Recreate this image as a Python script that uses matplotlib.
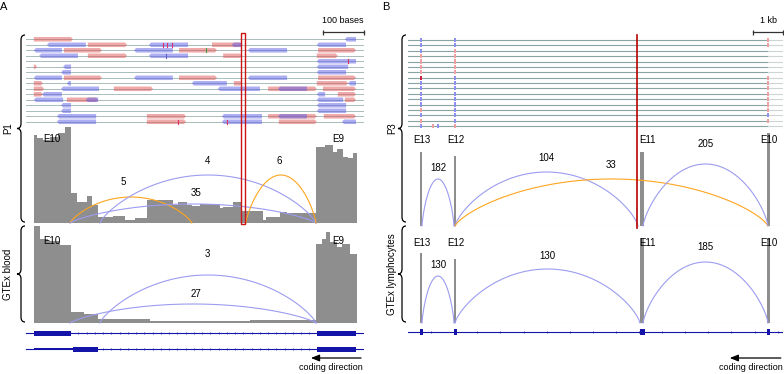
import numpy as np
import matplotlib

matplotlib.use("Agg")
from matplotlib import pyplot as plt
from matplotlib.patches import Rectangle, Polygon, PathPatch
from matplotlib.path import Path

plt.rcParams["font.family"] = ["Liberation Sans", "DejaVu Sans"]

FIG_W, FIG_H = 784, 374

# ---------------- panel A, positions in bases ----------------
a_p1_edges = [2, 9, 25, 41, 61, 78, 92, 106, 132, 142, 158, 195, 223, 247, 276,
              340, 352, 373, 385, 405, 453, 461, 486, 506, 518, 538, 558, 566,
              599, 615, 686, 708, 728, 736, 752, 764, 776, 785]
a_p1_cov = [88, 85, 83, 86, 90, 96, 30, 21, 27, 18, 6, 7, 3, 5, 23, 18, 21, 18,
            17, 19, 15, 16, 21, 12, 12, 12, 3, 6, 11, 10, 76, 78, 71, 74, 66, 65, 70]
a_blood_edges = [2, 17, 36, 65, 91, 123, 158, 284, 526, 686, 700, 710, 720, 737,
                 749, 768, 785]
a_blood_cov = [97, 84, 82, 78, 11, 9, 4, 2.5, 3, 79, 84, 91, 81, 76, 79, 69]

a_p1_start = [90, 162, 90, 516]
a_p1_end = [385, 686, 686, 686]
a_p1_count = ["5", "4", "35", "6"]
a_p1_arc = [26, 48, 19, 48]
a_p1_label_x = [218, 422, 395, 596]
a_p1_label_y = [41, 62, 30, 62]
a_p1_novel = [True, False, False, True]

a_blood_start = [162, 90]
a_blood_end = [686, 686]
a_blood_count = ["3", "27"]
a_blood_arc = [48, 19]
a_blood_label_x = [422, 395]
a_blood_label_y = [69, 29]

a_exon_names = ["E10", "E9"]
a_exon_x = [46, 739]

# reads per row: (start, end, strand)
a_reads = [
    [(2, 97, "+"), (756, 783, "-")],
    [(34, 128, "-"), (133, 228, "+"), (281, 376, "-"), (434, 507, "+"), (482, 507, "-"), (688, 759, "-")],
    [(2, 70, "-"), (75, 167, "+"), (245, 339, "-"), (354, 446, "+"), (521, 616, "-"), (691, 783, "+")],
    [(15, 109, "-"), (133, 228, "+"), (281, 376, "-"), (461, 507, "+"), (688, 739, "+")],
    [(688, 783, "-")],
    [(2, 10, "+"), (73, 92, "-"), (688, 764, "-")],
    [(68, 92, "-"), (688, 759, "-")],
    [(2, 70, "-"), (75, 167, "+"), (245, 339, "-"), (354, 446, "+"), (521, 616, "-"), (691, 783, "+")],
    [(2, 24, "+"), (82, 92, "-"), (385, 470, "-"), (487, 507, "+"), (688, 764, "+"), (764, 783, "-")],
    [(2, 27, "+"), (68, 160, "-"), (196, 291, "+"), (448, 550, "-"), (570, 688, "+"), (594, 664, "-"), (703, 783, "+")],
    [(2, 24, "+"), (22, 70, "-"), (688, 708, "-"), (739, 783, "+")],
    [(2, 73, "-"), (82, 158, "+"), (128, 158, "-"), (688, 752, "-"), (756, 783, "+")],
    [(68, 92, "-"), (688, 759, "-")],
    [(68, 92, "-"), (688, 759, "-")],
    [(58, 153, "-"), (276, 371, "+"), (458, 555, "-"), (570, 688, "+"), (594, 664, "-"), (705, 783, "+")],
    [(58, 153, "-"), (276, 371, "+"), (458, 555, "-"), (596, 688, "+"), (749, 783, "-")],
]
a_mismatch = [(1, 315, "#e0306a"), (1, 325, "#e0306a"), (1, 337, "#e0306a"),
              (2, 419, "#40a040"), (3, 322, "#6060d0"), (4, 764, "#e0306a"),
              (15, 352, "#e0306a"), (15, 470, "#e0306a")]

# ---------------- panel B, positions in bases ----------------
b_p3_edges = [400, 480, 1540, 1610, 7730, 7880, 11960, 12050]
b_p3_cov = [74, 0, 70, 0, 74, 0, 93]
b_lym_edges = [400, 480, 1540, 1610, 7730, 7880, 11960, 12050]
b_lym_cov = [70, 0, 64, 0, 85, 0, 85]

b_p3_start = [467, 1567, 1567, 7833]
b_p3_end = [1533, 7667, 12000, 12000]
b_p3_count = ["182", "104", "33", "205"]
b_p3_arc = [47, 54, 47, 62]
b_p3_label_y = [58, 68, 61, 82]
b_p3_novel = [False, False, True, False]

b_lym_start = [467, 1567, 7833]
b_lym_end = [1533, 7733, 12000]
b_lym_count = ["130", "130", "185"]
b_lym_arc = [47, 54, 61]
b_lym_label_y = [58, 67, 76]

b_exon_names = ["E13", "E12", "E11", "E10"]
b_exon_x = [467, 1600, 8000, 12030]
b_exon_start = [400, 1540, 7730, 11960]
b_exon_end = [490, 1620, 7890, 12060]

# strand of each read row at E13 / E12 / E10 (b blue, p pink, r red, . none)
b_read_marks = ["bbp", "bbp", "bp.", "pp.", "pp.", "pp.", "pp.", "rbp", "bbp",
                "bbp", "bbp", "bbp", "bbp", "pbp", "bbb", "pbp", "bp."]
b_mark_x = [445, 1580, 12010]

BLUE_ARC = "#9c9cf0"
ORANGE_ARC = "#ffa51f"
COV = "#8e8e8e"
READ_COL = {"+": (0.88, 0.33, 0.33, 0.5), "-": (0.36, 0.36, 0.9, 0.5)}
MARK_COL = {"b": "#8f8ff0", "p": "#f0a0a0", "r": "#d02040"}
GENE = "#1414a8"


def px_axes(fig, x0, y0, x1, y1, xlim, ylim):
    """Axes placed by a pixel box (top-left origin)."""
    ax = fig.add_axes([x0 / FIG_W, 1 - y1 / FIG_H, (x1 - x0) / FIG_W, (y1 - y0) / FIG_H])
    ax.set_xlim(*xlim)
    ax.set_ylim(*ylim)
    ax.axis("off")
    return ax


def arc(ax, s, e, h, color, p=0.8):
    t = np.linspace(0, 1, 150)
    ax.plot(s + (e - s) * t, h * (4 * t * (1 - t)) ** p, color=color, lw=0.8,
            clip_on=False)


def read_shape(s, e, y, strand, h=0.41, tip=5):
    if strand == "+":
        pts = [(s, y - h), (e - tip, y - h), (e, y), (e - tip, y + h), (s, y + h)]
    else:
        pts = [(s + tip, y - h), (e, y - h), (e, y + h), (s + tip, y + h), (s, y)]
    return Polygon(pts, closed=True, facecolor=READ_COL[strand], edgecolor="none")


def brace(ax, x, y0, y1, w=4, r=5):
    ym = (y0 + y1) / 2
    verts = [(x + w, y0), (x, y0), (x, y0 + r), (x, ym - r), (x, ym), (x - w, ym),
             (x, ym), (x, ym + r), (x, y1 - r), (x, y1), (x + w, y1)]
    codes = [Path.MOVETO, Path.CURVE3, Path.CURVE3, Path.LINETO, Path.CURVE3,
             Path.CURVE3, Path.CURVE3, Path.CURVE3, Path.LINETO, Path.CURVE3, Path.CURVE3]
    ax.add_patch(PathPatch(Path(verts, codes), fill=False, lw=0.9, edgecolor="black"))


fig = plt.figure(figsize=(FIG_W / 100, FIG_H / 100), dpi=100)

# ================= panel A =================
ax_r = px_axes(fig, 33, 34, 363, 127, (0, 800), (15.95, -0.96))
for i, row in enumerate(a_reads):
    ax_r.plot([-17, 800], [i, i], color="#a8bcbc", lw=0.7, clip_on=False, zorder=1)
    for s, e, strand in row:
        ax_r.add_patch(read_shape(s, e, i, strand))
for i, pos, col in a_mismatch:
    ax_r.plot([pos, pos], [i - 0.4, i + 0.4], color=col, lw=0.8)

for top, bottom, edges, cov, starts, ends, counts, arcs, lx, ly, novel in [
    (123, 223, a_p1_edges, a_p1_cov, a_p1_start, a_p1_end, a_p1_count, a_p1_arc,
     a_p1_label_x, a_p1_label_y, a_p1_novel),
    (223, 323, a_blood_edges, a_blood_cov, a_blood_start, a_blood_end, a_blood_count,
     a_blood_arc, a_blood_label_x, a_blood_label_y, [False, False]),
]:
    ax = px_axes(fig, 33, top, 363, bottom, (0, 800), (0, 100))
    ax.stairs(cov, edges, fill=True, color=COV, lw=0)
    for s, e, h, n in zip(starts, ends, arcs, novel):
        arc(ax, s, e, h, ORANGE_ARC if n else BLUE_ARC)
    for x, y, c in zip(lx, ly, counts):
        ax.text(x, y, c, ha="center", va="center", fontsize=7)
    for x, name in zip(a_exon_x, a_exon_names):
        ax.text(x, 84 if top == 123 else 82, name, ha="center", va="center", fontsize=7)

ov_a = px_axes(fig, 33, 0, 363, FIG_H, (0, 800), (FIG_H, 0))
ov_a.add_patch(Rectangle((505, 33), 10, 191, fill=False, edgecolor="#cc1414", lw=1.0))

# gene models
for y in [333, 349]:
    ov_a.plot([-17, 800], [y, y], color=GENE, lw=0.8, clip_on=False)
    ticks = np.arange(110, 680, 20)
    ov_a.vlines(ticks, y - 1, y + 1, color=GENE, lw=0.5)
ov_a.add_patch(Rectangle((2, 330.5), 90, 5, color=GENE, lw=0))
ov_a.add_patch(Rectangle((688, 330.5), 95, 5, color=GENE, lw=0))
ov_a.add_patch(Rectangle((2, 347.7), 95, 2.6, color=GENE, lw=0))
ov_a.add_patch(Rectangle((97, 346.5), 61, 5, color=GENE, lw=0))
ov_a.add_patch(Rectangle((688, 346.5), 95, 5, color=GENE, lw=0))

# scale bar and direction
ov_a.plot([702, 802], [32, 32], color="#333333", lw=0.9, clip_on=False)
ov_a.vlines([702, 802], 29.5, 34.5, color="#333333", lw=0.9, clip_on=False)
ov_a.text(752, 20, "100 bases", ha="center", va="center", fontsize=6.5, clip_on=False)
ov_a.annotate("", xy=(667, 358), xytext=(802, 358),
              arrowprops=dict(arrowstyle="-|>,head_length=0.5,head_width=0.2",
                              color="black", lw=0.9), annotation_clip=False)
ov_a.text(800, 368, "coding direction", ha="right", va="center", fontsize=6.5)

# ================= panel B =================
ax_rb = px_axes(fig, 408, 34, 783, 130, (0, 12500), (16.74, -1.12))
for i, marks in enumerate(b_read_marks):
    ax_rb.plot([0, 12000], [i, i], color="#8aa4a4", lw=0.8, zorder=1)
    ax_rb.plot([12000, 12500], [i, i], color="#cdd5d5", lw=0.8, zorder=1)
    for x, m in zip(b_mark_x, marks):
        if m != ".":
            ax_rb.add_patch(Rectangle((x - 35, i - 0.38), 70, 0.76,
                                      color=MARK_COL[m], lw=0, zorder=2))
ax_rb.add_patch(Rectangle((800, 15.62), 70, 0.76, color=MARK_COL["p"], lw=0, zorder=2))
ax_rb.add_patch(Rectangle((970, 15.62), 70, 0.76, color=MARK_COL["b"], lw=0, zorder=2))

for top, bottom, edges, cov, starts, ends, counts, arcs, ly, novel, ey in [
    (126, 226, b_p3_edges, b_p3_cov, b_p3_start, b_p3_end, b_p3_count, b_p3_arc,
     b_p3_label_y, b_p3_novel, 86),
    (223, 323, b_lym_edges, b_lym_cov, b_lym_start, b_lym_end, b_lym_count,
     b_lym_arc, b_lym_label_y, [False, False, False], 80),
]:
    ax = px_axes(fig, 408, top, 783, bottom, (0, 12500), (0, 100))
    ax.axhline(0, color="#d8d8d8", lw=0.8)
    ax.stairs(cov, edges, fill=True, color=COV, lw=0)
    for s, e, h, n in zip(starts, ends, arcs, novel):
        arc(ax, s, e, h, ORANGE_ARC if n else BLUE_ARC, p=0.75)
    for s, e, y, c in zip(starts, ends, ly, counts):
        ax.text((s + e) / 2, y, c, ha="center", va="center", fontsize=7)
    for x, name in zip(b_exon_x, b_exon_names):
        ax.text(x, ey, name, ha="center", va="center", fontsize=7, clip_on=False)

ov_b = px_axes(fig, 408, 0, 783, FIG_H, (0, 12500), (FIG_H, 0))
ov_b.plot([7633, 7633], [35, 228], color="#b80000", lw=1.2)
ov_b.plot([0, 12500], [332, 332], color=GENE, lw=0.8)
ov_b.vlines(np.arange(770, 12400, 770), 331, 333, color=GENE, lw=0.5)
for s, e in zip(b_exon_start, b_exon_end):
    ov_b.add_patch(Rectangle((s, 329), e - s, 6, color=GENE, lw=0))
ov_b.plot([11500, 12500], [32, 32], color="#333333", lw=0.9, clip_on=False)
ov_b.vlines([11500, 12500], 29.5, 34.5, color="#333333", lw=0.9, clip_on=False)
ov_b.text(12000, 20, "1 kb", ha="center", va="center", fontsize=6.5)
ov_b.annotate("", xy=(10633, 358), xytext=(12520, 358),
              arrowprops=dict(arrowstyle="-|>,head_length=0.5,head_width=0.2",
                              color="black", lw=0.9), annotation_clip=False)
ov_b.text(12500, 368, "coding direction", ha="right", va="center", fontsize=6.5,
          clip_on=False)

# ================= labels and braces =================
ax_f = px_axes(fig, 0, 0, FIG_W, FIG_H, (0, FIG_W), (FIG_H, 0))
ax_f.text(4, 7, "A", ha="center", va="center", fontsize=8)
ax_f.text(386, 7, "B", ha="center", va="center", fontsize=8)
for x, tx, sections in [(21, 8, [(35, 222, "P1"), (226, 322, "GTEx blood")]),
                        (402, 392, [(35, 222, "P3"), (226, 322, "GTEx lymphocytes")])]:
    for y0, y1, label in sections:
        brace(ax_f, x, y0, y1)
        ax_f.text(tx, (y0 + y1) / 2, label, rotation=90, ha="center", va="center",
                  fontsize=7)

fig.savefig("out.png", dpi=100)
